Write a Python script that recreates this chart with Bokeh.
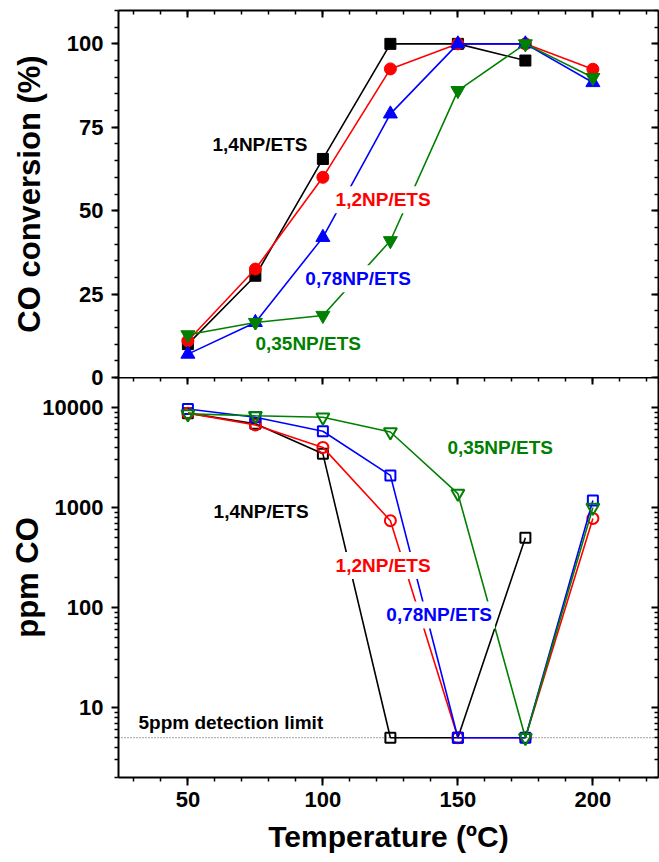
from bokeh.plotting import figure
from bokeh.models import (Range1d, LinearAxis, LogAxis, SingleIntervalTicker, FixedTicker,
                          Label, Span, PrintfTickFormatter)
from bokeh.layouts import column
from bokeh.embed import file_html
from bokeh.resources import INLINE

# ---------------- data ----------------
temps = [50, 75, 100, 125, 150, 175, 200]
temps_14 = [50, 75, 100, 125, 150, 175]

# CO conversion (%)
conv_14 = [10, 30.5, 65.5, 100, 100, 95]
conv_12 = [11, 32.5, 60, 92.5, 100, 100, 92.4]
conv_078 = [7, 16.5, 42, 79, 100, 100, 88.4]
conv_035 = [12.8, 16.5, 18.6, 41, 86, 100, 89.9]

# ppm CO
ppm_14 = [8800, 6900, 3450, 5, 5, 500]
ppm_12 = [8800, 6700, 4000, 740, 5, 5, 780]
ppm_078 = [9700, 8000, 5800, 2100, 5, 5, 1180]
ppm_035 = [8650, 8300, 8000, 5700, 1380, 5, 1000]

detection_limit = 5

names = ["1,4NP/ETS", "1,2NP/ETS", "0,78NP/ETS", "0,35NP/ETS"]
colors = ["black", "#FF0000", "#0000FF", "#008000"]

FONT = "Liberation Sans"
X_RANGE = (24.3, 224.3)


def style_axis(ax, inside, labels=True, major=7, minor=4):
    ax.axis_line_width = 2
    ax.axis_line_color = "black"
    ax.major_tick_line_width = 2
    ax.minor_tick_line_width = 1.5
    ax.major_tick_line_color = "black"
    ax.minor_tick_line_color = "black"
    if inside:
        ax.major_tick_in, ax.major_tick_out = major, 0
        ax.minor_tick_in, ax.minor_tick_out = minor, 0
    else:
        ax.major_tick_in, ax.major_tick_out = 0, major
        ax.minor_tick_in, ax.minor_tick_out = 0, minor
    ax.major_label_text_font = FONT
    ax.major_label_text_font_style = "bold"
    if labels:
        ax.major_label_text_color = "black"
        ax.major_label_text_font_size = "22px"
    else:
        ax.major_label_text_color = None
        ax.major_label_text_font_size = "0px"
        ax.major_label_standoff = 0
    ax.axis_label_text_font = FONT
    ax.axis_label_text_font_style = "bold"
    ax.axis_label_text_color = "black"
    return ax


def add_label(p, x, y, text, color, bg=True):
    lab = Label(x=x, y=y, text=text, text_font=FONT, text_font_style="bold",
                text_font_size="19px", text_color=color, text_align="left",
                text_baseline="middle")
    if bg:
        lab.background_fill_color = "white"
        lab.padding = 3
    p.add_layout(lab)


# ---------------- top panel ----------------
top = figure(width=659, height=391, x_range=Range1d(*X_RANGE), y_range=Range1d(0, 110),
             x_axis_location=None, y_axis_location=None, toolbar_location=None,
             output_backend="svg", min_border_left=118, min_border_right=1,
             min_border_top=10, min_border_bottom=14)
top.outline_line_color = None
top.grid.visible = False
top.background_fill_color = "white"
top.border_fill_color = "white"

yt = SingleIntervalTicker(interval=25, num_minor_ticks=5)
xt = SingleIntervalTicker(interval=50, num_minor_ticks=5)

ax = style_axis(LinearAxis(ticker=yt, axis_label="CO conversion (%)"), inside=False)
ax.major_label_standoff = 8
ax.axis_label_standoff = 17
ax.axis_label_text_font_size = "31px"
top.add_layout(ax, "left")
top.add_layout(style_axis(LinearAxis(ticker=yt), inside=True, labels=False), "right")
top.add_layout(style_axis(LinearAxis(ticker=xt), inside=True, labels=False), "above")

conv_series = [(temps_14, conv_14, "square", 11), (temps, conv_12, "circle", 12),
               (temps, conv_078, "triangle", 14), (temps, conv_035, "inverted_triangle", 14)]
for (xs, ys, mk, sz), c in zip(conv_series, colors):
    top.line(xs, ys, line_color=c, line_width=1.6)
    top.scatter(xs, ys, marker=mk, size=sz, fill_color=c, line_color=c)

add_label(top, 58.0, 69.8, names[0], colors[0])
add_label(top, 103.6, 53.3, names[1], colors[1])
add_label(top, 92.4, 29.6, names[2], colors[2])
add_label(top, 73.9, 10.2, names[3], colors[3])

# ---------------- bottom panel ----------------
bot = figure(width=659, height=485, x_range=top.x_range, y_range=Range1d(2, 20000),
             y_axis_type="log", x_axis_location=None, y_axis_location=None,
             toolbar_location=None, output_backend="svg", min_border_left=118,
             min_border_right=1, min_border_top=0, min_border_bottom=85,
             margin=(-14, 0, 0, 0))
bot.outline_line_color = None
bot.grid.visible = False
bot.background_fill_color = "white"
bot.border_fill_alpha = 0

log_major = [10, 100, 1000, 10000]
log_minor = [m * d for d in [1, 10, 100, 1000, 10000] for m in range(2, 10)]
lt = FixedTicker(ticks=log_major, minor_ticks=log_minor)

lax = style_axis(LogAxis(ticker=lt, formatter=PrintfTickFormatter(format="%d"),
                         axis_label="ppm CO"), inside=False)
lax.major_label_standoff = 8
lax.axis_label_standoff = -6
lax.axis_label_text_font_size = "31px"
bot.add_layout(lax, "left")
rax = style_axis(LogAxis(ticker=lt, formatter=PrintfTickFormatter(format="%d")),
                 inside=True, labels=False)
bot.add_layout(rax, "right")
bot.add_layout(style_axis(LinearAxis(ticker=xt), inside=True, labels=False), "above")
bx = style_axis(LinearAxis(ticker=xt, axis_label="Temperature (\u00baC)"), inside=False,
                major=8)
bx.major_label_standoff = 6
bx.axis_label_standoff = 10
bx.axis_label_text_font_size = "30px"
bot.add_layout(bx, "below")

bot.add_layout(Span(location=detection_limit, dimension="width", line_color="#444444",
                    line_width=1, line_dash="1 2", level="underlay"))

ppm_series = [(temps_14, ppm_14, "square", 10), (temps, ppm_12, "circle", 11),
              (temps, ppm_078, "square", 10), (temps, ppm_035, "inverted_triangle", 13)]
for (xs, ys, mk, sz), c in zip(ppm_series, colors):
    bot.line(xs, ys, line_color=c, line_width=1.6)
    bot.scatter(xs, ys, marker=mk, size=sz, fill_alpha=0, line_color=c, line_width=2)

add_label(bot, 58.4, 919, names[0], colors[0])
add_label(bot, 103.6, 263, names[1], colors[1])
add_label(bot, 122.4, 84.5, names[2], colors[2])
add_label(bot, 145.0, 4010, names[3], colors[3])
add_label(bot, 31.7, 7.1, "5ppm detection limit", "black", bg=False)

layout = column(top, bot, spacing=0)
open("out.html", "w").write(file_html(layout, INLINE))
